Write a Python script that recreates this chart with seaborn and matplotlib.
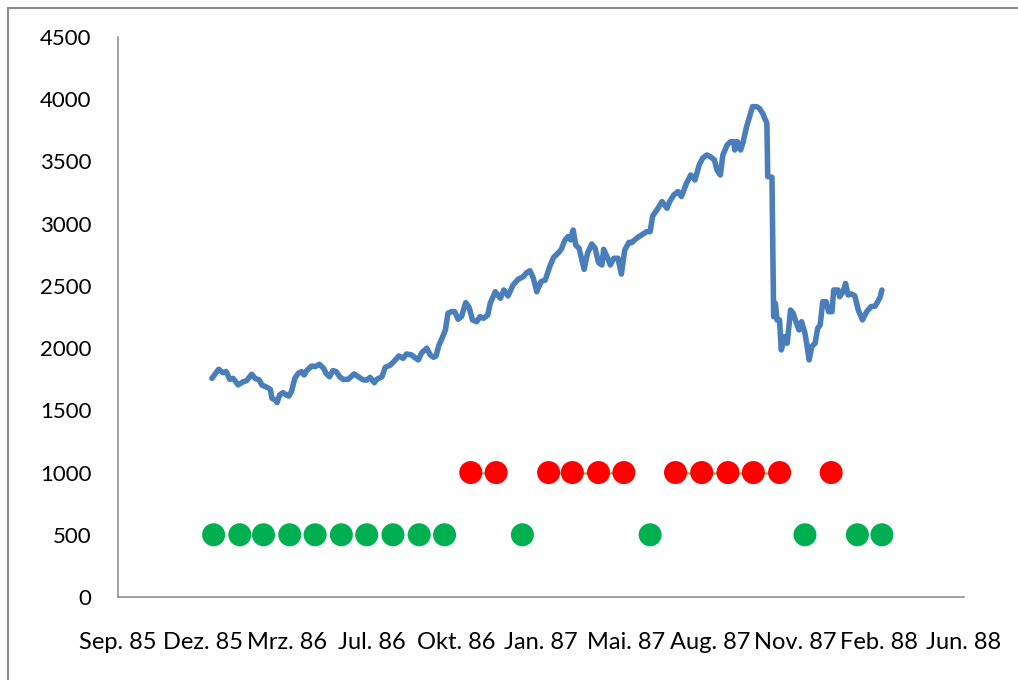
import matplotlib
matplotlib.use("Agg")
import matplotlib.pyplot as plt
from matplotlib.patches import Rectangle
import numpy as np
import pandas as pd
import seaborn as sns

# Index closing values (reading dates and levels)
index_dates = [
    "1985-12-30", "1986-01-07", "1986-01-12", "1986-01-16", "1986-01-20", "1986-01-24",
    "1986-01-30", "1986-02-05", "1986-02-09", "1986-02-15", "1986-02-19", "1986-02-24",
    "1986-02-27", "1986-03-05", "1986-03-09", "1986-03-11", "1986-03-15", "1986-03-17",
    "1986-03-20", "1986-03-24", "1986-03-28", "1986-03-31", "1986-04-03", "1986-04-07",
    "1986-04-11", "1986-04-15", "1986-04-18", "1986-04-21", "1986-04-27", "1986-05-01",
    "1986-05-06", "1986-05-11", "1986-05-14", "1986-05-18", "1986-05-22", "1986-05-26",
    "1986-05-30", "1986-06-03", "1986-06-09", "1986-06-16", "1986-06-21", "1986-06-27",
    "1986-07-01", "1986-07-05", "1986-07-10", "1986-07-13", "1986-07-19", "1986-07-23",
    "1986-07-29", "1986-08-03", "1986-08-08", "1986-08-13", "1986-08-17", "1986-08-23",
    "1986-08-28", "1986-08-31", "1986-09-04", "1986-09-10", "1986-09-14", "1986-09-18",
    "1986-09-21", "1986-09-24", "1986-09-28", "1986-10-02", "1986-10-05", "1986-10-09",
    "1986-10-13", "1986-10-17", "1986-10-21", "1986-10-26", "1986-10-30", "1986-11-03",
    "1986-11-08", "1986-11-12", "1986-11-16", "1986-11-21", "1986-11-24", "1986-11-30",
    "1986-12-06", "1986-12-10", "1986-12-15", "1986-12-21", "1986-12-27", "1987-01-02",
    "1987-01-06", "1987-01-10", "1987-01-14", "1987-01-18", "1987-01-23", "1987-01-28",
    "1987-02-03", "1987-02-07", "1987-02-12", "1987-02-16", "1987-02-20", "1987-02-24",
    "1987-02-27", "1987-03-02", "1987-03-05", "1987-03-09", "1987-03-15", "1987-03-19",
    "1987-03-24", "1987-03-28", "1987-04-01", "1987-04-05", "1987-04-07", "1987-04-11",
    "1987-04-15", "1987-04-19", "1987-04-24", "1987-04-28", "1987-05-02", "1987-05-07",
    "1987-05-10", "1987-05-16", "1987-05-22", "1987-05-28", "1987-06-01", "1987-06-04",
    "1987-06-09", "1987-06-15", "1987-06-21", "1987-06-24", "1987-06-29", "1987-07-04",
    "1987-07-08", "1987-07-14", "1987-07-19", "1987-07-24", "1987-07-29", "1987-08-02",
    "1987-08-07", "1987-08-11", "1987-08-16", "1987-08-19", "1987-08-23", "1987-08-26",
    "1987-08-31", "1987-09-04", "1987-09-08", "1987-09-09", "1987-09-12", "1987-09-16",
    "1987-09-19", "1987-09-23", "1987-09-26", "1987-09-30", "1987-10-05", "1987-10-08",
    "1987-10-12", "1987-10-17", "1987-10-18", "1987-10-23", "1987-10-25", "1987-10-27",
    "1987-10-29", "1987-11-01", "1987-11-03", "1987-11-07", "1987-11-10", "1987-11-14",
    "1987-11-17", "1987-11-21", "1987-11-24", "1987-11-27", "1987-12-01", "1987-12-03",
    "1987-12-06", "1987-12-09", "1987-12-13", "1987-12-16", "1987-12-19", "1987-12-22",
    "1987-12-26", "1987-12-29", "1988-01-02", "1988-01-04", "1988-01-09", "1988-01-11",
    "1988-01-15", "1988-01-18", "1988-01-21", "1988-01-25", "1988-01-29", "1988-02-02",
    "1988-02-07", "1988-02-12", "1988-02-17", "1988-02-22", "1988-02-25", "1988-02-28",
    "1988-03-01",
]
index_values = [
    1757, 1830, 1803, 1811, 1749, 1757,
    1704, 1730, 1738, 1790, 1757, 1744,
    1704, 1685, 1669, 1597, 1583, 1562,
    1623, 1642, 1623, 1615, 1650, 1757,
    1797, 1811, 1784, 1819, 1856, 1851,
    1870, 1838, 1797, 1770, 1819, 1811,
    1770, 1749, 1749, 1792, 1770, 1744,
    1744, 1765, 1722, 1749, 1770, 1846,
    1864, 1899, 1937, 1918, 1953, 1945,
    1918, 1905, 1963, 1999, 1945, 1926,
    1937, 2017, 2079, 2146, 2280, 2293,
    2293, 2232, 2253, 2365, 2328, 2226,
    2212, 2253, 2239, 2266, 2360, 2453,
    2400, 2467, 2419, 2507, 2553, 2574,
    2606, 2622, 2561, 2453, 2534, 2547,
    2668, 2730, 2762, 2794, 2864, 2896,
    2869, 2949, 2829, 2802, 2633, 2762,
    2837, 2802, 2687, 2668, 2794, 2735,
    2668, 2722, 2722, 2595, 2789, 2850,
    2847, 2883, 2909, 2936, 2936, 3062,
    3110, 3177, 3124, 3177, 3231, 3258,
    3218, 3325, 3391, 3351, 3472, 3526,
    3552, 3539, 3512, 3431, 3391, 3552,
    3632, 3659, 3659, 3592, 3659, 3592,
    3659, 3780, 3847, 3940, 3940, 3927,
    3887, 3806, 3378, 3373, 2253, 2360,
    2226, 2226, 1985, 2092, 2039, 2306,
    2280, 2199, 2146, 2212, 2119, 2039,
    1905, 2012, 2039, 2159, 2186, 2373,
    2373, 2293, 2293, 2467, 2467, 2413,
    2453, 2520, 2427, 2435, 2419, 2306,
    2226, 2293, 2333, 2338, 2373, 2413,
    2467,
]

# Monthly signals: True = sell signal (red, plotted at 1000), False = buy signal (green, at 500)
signal_months = pd.date_range("1986-01-01", "1988-03-01", freq="MS")
sell_signal = [
    False, False, False, False, False, False, False, False, False, False,  # Jan-Oct 86
    True, True,                                                            # Nov-Dec 86
    False, True, True, True, True, False,                                  # Jan-Jun 87
    True, True, True, True, True, False,                                   # Jul-Dec 87
    True, False, False,                                                    # Jan-Mar 88
]
sell_level = 1000
buy_level = 500

# Axis layout: date axis with a major unit of 100 days
axis_start = "1985-09-10"
tick_step_days = 100
tick_labels = ["Sep. 85", "Dez. 85", "Mrz. 86", "Jul. 86", "Okt. 86", "Jan. 87",
               "Mai. 87", "Aug. 87", "Nov. 87", "Feb. 88", "Jun. 88"]
y_ticks = [0, 500, 1000, 1500, 2000, 2500, 3000, 3500, 4000, 4500]

sns.set_theme(style="white")
plt.rcParams["font.family"] = ["Lato", "DejaVu Sans"]

fig = plt.figure(figsize=(10.18, 6.8), dpi=100)
ax = fig.add_axes([118 / 1018, 1 - 597 / 680, (964 - 118) / 1018, (597 - 37) / 680])

prices = pd.DataFrame({"date": pd.to_datetime(index_dates), "value": index_values})
sns.lineplot(data=prices, x="date", y="value", ax=ax, color="#4A7EBB",
             linewidth=4.0, solid_joinstyle="round", solid_capstyle="round",
             zorder=3)

signals = pd.DataFrame({"date": signal_months, "sell": sell_signal})
signals["level"] = np.where(signals["sell"], sell_level, buy_level)
signals["kind"] = np.where(signals["sell"], "sell", "buy")

# Connector between consecutive sell months (breaks where a month is a buy)
sell_line = np.where(signals["sell"], sell_level, np.nan)
ax.plot(signals["date"], sell_line, color="#9BBB59", linewidth=1.8, zorder=2)

sns.scatterplot(data=signals, x="date", y="level", hue="kind",
                palette={"sell": "#FF0000", "buy": "#00B050"},
                s=275, linewidth=0, legend=False, ax=ax, zorder=4)

start = pd.Timestamp(axis_start)
tick_dates = [start + pd.Timedelta(days=tick_step_days * i) for i in range(len(tick_labels))]
ax.set_xlim(tick_dates[0], tick_dates[-1])
ax.set_xticks(tick_dates)
ax.set_xticklabels(tick_labels)
ax.set_ylim(0, 4500)
ax.set_yticks(y_ticks)
ax.set_yticklabels([str(v) for v in y_ticks])
ax.set_xlabel("")
ax.set_ylabel("")

for side in ["top", "right"]:
    ax.spines[side].set_visible(False)
for side in ["left", "bottom"]:
    ax.spines[side].set_color("#868686")
    ax.spines[side].set_linewidth(1.1)

ax.tick_params(axis="both", which="major", direction="out", length=5, width=1.1,
               color="#868686", labelcolor="black")
ax.tick_params(axis="y", pad=14, labelsize=16)
ax.tick_params(axis="x", pad=20, labelsize=17)
ax.grid(False)

# Outer chart frame
fig.patches.append(Rectangle((8 / 1018, -0.2), 1.3, 1 - 7.5 / 680 + 0.2,
                             transform=fig.transFigure, fill=False,
                             edgecolor="#8C8C8C", linewidth=1.5, zorder=0))

fig.savefig("out.png", dpi=100)
